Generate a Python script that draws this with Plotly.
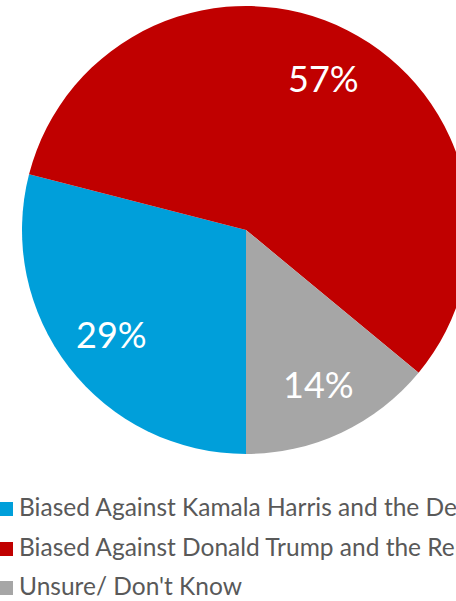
import math
import plotly.graph_objects as go

labels = [
    "Biased Against Kamala Harris and the Democrats",
    "Biased Against Donald Trump and the Republicans",
    "Unsure/ Don't Know",
]
values = [29, 57, 14]
colors = ["#009FDA", "#C00000", "#A6A6A6"]

W, H = 480, 601
L, T, SIZE = 22, 6, 448  # plot area: square that holds the pie


def px_x(px):
    return (px - L) / SIZE


def px_y(py):
    return (T + SIZE - py) / SIZE


fig = go.Figure(
    go.Pie(
        labels=labels,
        values=values,
        marker=dict(colors=colors, line=dict(width=0)),
        sort=False,
        direction="clockwise",
        rotation=180,
        textinfo="none",
        domain=dict(x=[0, 1], y=[0, 1]),
        hoverinfo="label+percent",
        showlegend=False,
    )
)

# percent labels, placed along each slice's mid angle
total = sum(values)
start = 180.0
for v in values:
    mid = math.radians(start + 360 * v / total / 2)
    start += 360 * v / total
    r = 0.5 * 0.76
    fig.add_annotation(
        x=0.5 + r * math.sin(mid), y=0.5 + r * math.cos(mid),
        xref="paper", yref="paper", showarrow=False,
        xanchor="center", yanchor="middle",
        text=f"{round(100 * v / total)}%",
        font=dict(family="Lato", size=36, color="white"),
    )

# legend rows under the pie
row_y = [509, 549, 588]
for lab, col, py in zip(labels, colors, row_y):
    fig.add_annotation(
        x=px_x(0), y=px_y(py), xref="paper", yref="paper",
        xanchor="left", yanchor="middle", showarrow=False,
        text=" ", width=13, height=14, bgcolor=col,
        borderpad=0, borderwidth=0,
    )
    fig.add_annotation(
        x=px_x(19), y=px_y(py - 3), xref="paper", yref="paper",
        xanchor="left", yanchor="middle", showarrow=False,
        text=lab, font=dict(family="Lato", size=24.5, color="#595959"),
        borderpad=0, borderwidth=0,
    )

fig.update_layout(
    width=W,
    height=H,
    margin=dict(l=L, r=W - L - SIZE, t=T, b=H - T - SIZE),
    paper_bgcolor="white",
)

fig.write_html(
    "out.html",
    config=dict(displayModeBar=False),
    post_script=(
        "document.body.style.margin='0';"
        "document.body.style.overflow='hidden';"
        "document.documentElement.style.overflow='hidden';"
    ),
)
